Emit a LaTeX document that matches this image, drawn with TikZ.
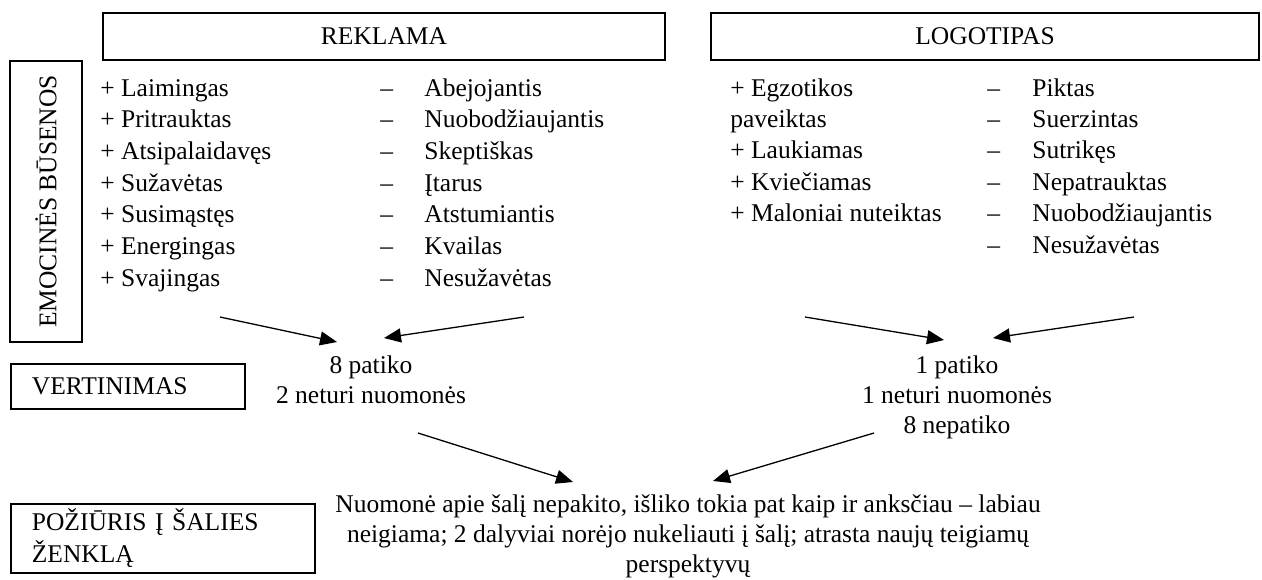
\documentclass[tikz,border=0pt]{standalone}
\usepackage{fontspec}
\setmainfont{Liberation Serif}
\usetikzlibrary{arrows.meta}
\begin{document}
\begin{tikzpicture}[x=0.5pt,y=-0.5pt,
  font=\fontsize{12.75}{15}\selectfont,
  hbox/.style={draw, line width=0.9pt, inner sep=0pt},
  lbox/.style={draw, line width=0.9pt, anchor=west, align=left, inner xsep=10.5pt, inner ysep=0pt},
  item/.style={anchor=base west, inner sep=0pt},
  ctext/.style={align=center, inner sep=0pt, anchor=base},
  arr/.style={line width=0.65pt, -{Triangle[length=8.5pt,width=7pt]}}]
\useasboundingbox (0,0) rectangle (1262,579);
% header boxes
\node[hbox, minimum width=281pt, minimum height=23.5pt] (rek) at (384,36.5) {REKLAMA};
\node[hbox, minimum width=274pt, minimum height=23.5pt] (logo) at (985,36.5) {LOGOTIPAS};
% side boxes
\node[hbox, rotate=90, minimum width=140.5pt, minimum height=36pt] (emo) at (46,201.5) {EMOCINĖS BŪSENOS};
\node[lbox, text width=96pt, minimum height=22.5pt] (vert) at (10,386.5) {VERTINIMAS};
\node[lbox, text width=131pt, minimum height=34.5pt, font=\fontsize{12.75}{16}\selectfont] (poz) at (10,538.5) {POŽIŪRIS Į ŠALIES\\ŽENKLĄ};
% reklama lists
\node[item] (rp1) at (100,96) {+ Laimingas};
\node[item] (rp2) at (100,127.7) {+ Pritrauktas};
\node[item] (rp3) at (100,159.4) {+ Atsipalaidavęs};
\node[item] (rp4) at (100,191.1) {+ Sužavėtas};
\node[item] (rp5) at (100,222.8) {+ Susimąstęs};
\node[item] (rp6) at (100,254.5) {+ Energingas};
\node[item] (rp7) at (100,286.2) {+ Svajingas};
\node[item] (rm1) at (380,96) {\makebox[22pt][l]{–}Abejojantis};
\node[item] (rm2) at (380,127.7) {\makebox[22pt][l]{–}Nuobodžiaujantis};
\node[item] (rm3) at (380,159.4) {\makebox[22pt][l]{–}Skeptiškas};
\node[item] (rm4) at (380,191.1) {\makebox[22pt][l]{–}Įtarus};
\node[item] (rm5) at (380,222.8) {\makebox[22pt][l]{–}Atstumiantis};
\node[item] (rm6) at (380,254.5) {\makebox[22pt][l]{–}Kvailas};
\node[item] (rm7) at (380,286.2) {\makebox[22pt][l]{–}Nesužavėtas};
% logotipas lists
\node[item] (lp1) at (730,96) {+ Egzotikos};
\node[item] (lp1b) at (730,127.4) {paveiktas};
\node[item] (lp2) at (730,158.8) {+ Laukiamas};
\node[item] (lp3) at (730,190.2) {+ Kviečiamas};
\node[item] (lp4) at (730,221.6) {+ Maloniai nuteiktas};
\node[item] (lm1) at (987,96) {\makebox[22.5pt][l]{–}Piktas};
\node[item] (lm2) at (987,127.4) {\makebox[22.5pt][l]{–}Suerzintas};
\node[item] (lm3) at (987,158.8) {\makebox[22.5pt][l]{–}Sutrikęs};
\node[item] (lm4) at (987,190.2) {\makebox[22.5pt][l]{–}Nepatrauktas};
\node[item] (lm5) at (987,221.6) {\makebox[22.5pt][l]{–}Nuobodžiaujantis};
\node[item] (lm6) at (987,253) {\makebox[22.5pt][l]{–}Nesužavėtas};
% evaluations (base anchor = last line)
\node[ctext] (ev1) at (371,403) {8 patiko\\2 neturi nuomonės};
\node[ctext] (ev2) at (957,433) {1 patiko\\1 neturi nuomonės\\8 nepatiko};
% result
\node[ctext, font=\fontsize{12.75}{14.8}\selectfont] (res) at (688,572) {Nuomonė apie šalį nepakito, išliko tokia pat kaip ir anksčiau – labiau\\neigiama; 2 dalyviai norėjo nukeliauti į šalį; atrasta naujų teigiamų\\perspektyvų};
% arrow endpoints
\coordinate (a1s) at (220,317); \coordinate (a1e) at (337,342);
\coordinate (a2s) at (524,317); \coordinate (a2e) at (384,338);
\coordinate (a3s) at (805,317); \coordinate (a3e) at (944,340);
\coordinate (a4s) at (1134,317); \coordinate (a4e) at (993,338);
\coordinate (a5s) at (418,433); \coordinate (a5e) at (573,482);
\coordinate (a6s) at (874,433); \coordinate (a6e) at (713,481);
\draw[arr] (a1s) -- (a1e);
\draw[arr] (a2s) -- (a2e);
\draw[arr] (a3s) -- (a3e);
\draw[arr] (a4s) -- (a4e);
\draw[arr] (a5s) -- (a5e);
\draw[arr] (a6s) -- (a6e);
\end{tikzpicture}
\end{document}
